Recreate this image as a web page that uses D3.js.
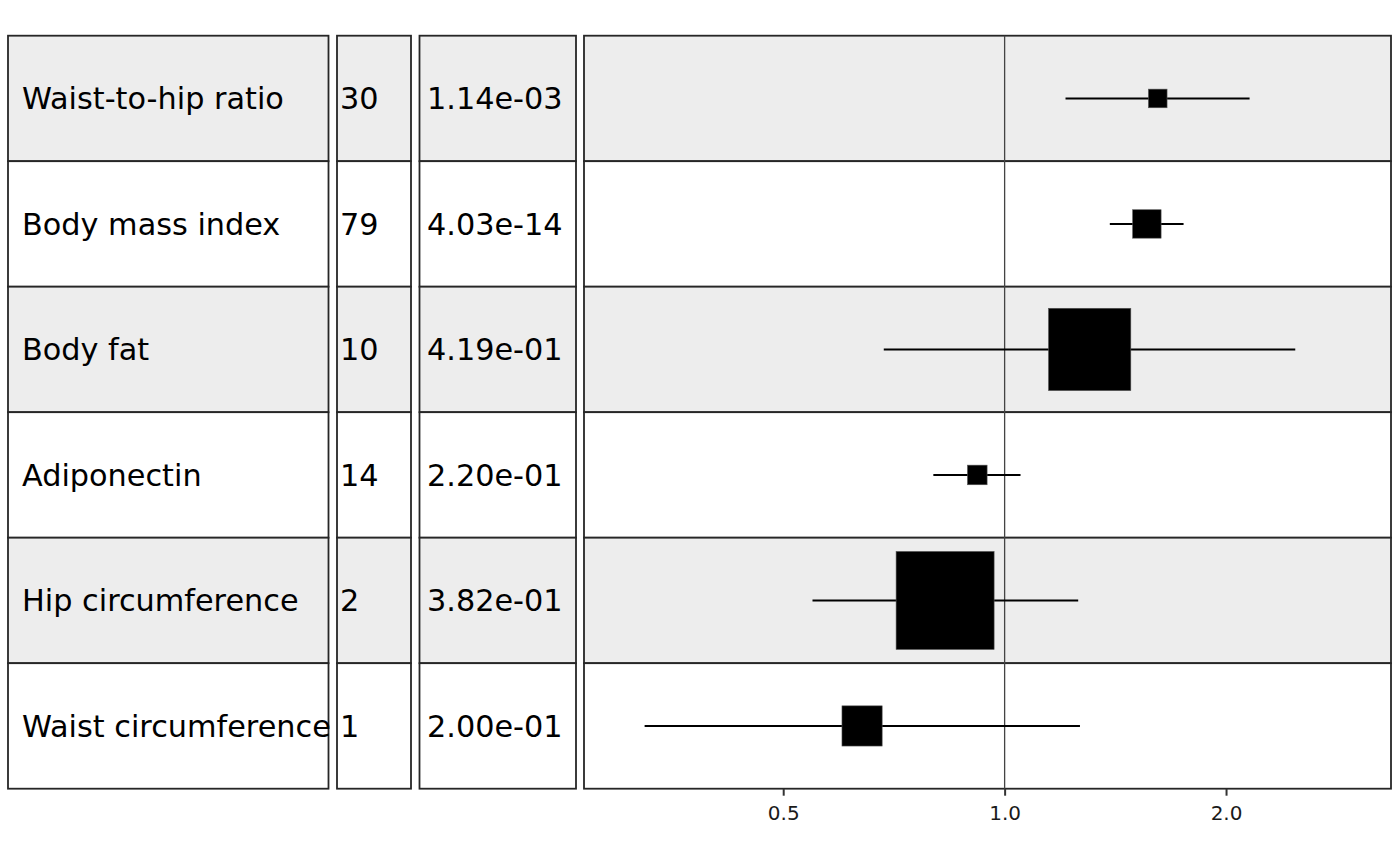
<!DOCTYPE html>
<html>
<head>
<meta charset="utf-8">
<script src="https://cdn.jsdelivr.net/npm/d3@7"></script>
<style>
  body { margin: 0; background: #fff; }
  svg { display: block; font-family: "DejaVu Sans", sans-serif; }
</style>
</head>
<body>
<div id="forest"></div>
<script>
// Data (top to bottom)
const outcomes = ["Waist-to-hip ratio", "Body mass index", "Body fat", "Adiponectin", "Hip circumference", "Waist circumference"];
const nsnp     = [30, 79, 10, 14, 2, 1];
const pvals    = ["1.14e-03", "4.03e-14", "4.19e-01", "2.20e-01", "3.82e-01", "2.00e-01"];
const estimate = [1.615, 1.561, 1.305, 0.918, 0.830, 0.640];
const lower    = [1.210, 1.390, 0.685, 0.800, 0.548, 0.324];
const upper    = [2.153, 1.751, 2.484, 1.051, 1.259, 1.266];
const weight   = [0.19, 0.29, 0.84, 0.20, 1.00, 0.41];
const xTicks   = [0.5, 1.0, 2.0];

const width = 1400, height = 865;

const svg = d3.select("#forest")
              .append("svg")
              .attr("width", width)
              .attr("height", height);

svg.append("rect")
   .attr("width", width)
   .attr("height", height)
   .attr("fill", "#fff");

const rows = outcomes.map((d, i) => ({
    outcome: d, nsnp: nsnp[i], pval: pvals[i],
    est: estimate[i], lo: lower[i], hi: upper[i], w: weight[i], i: i
}));

// one band per outcome, stacked panels
const y = d3.scaleBand()
            .domain(outcomes)
            .range([35.7, 788.7])
            .padding(0);

// table columns + plot panel
const cols = [
    {x0: 8,     x1: 328.5, textX: 22,  key: "outcome"},
    {x0: 337,   x1: 411,   textX: 340, key: "nsnp"},
    {x0: 419.5, x1: 576,   textX: 427, key: "pval"}
];
const panel = {x0: 584, x1: 1391};

const x = d3.scaleLog()
            .domain([0.268, 3.352])
            .range([panel.x0, panel.x1]);

const size = d3.scaleLinear()
               .domain([0, d3.max(weight)])
               .range([0, 98]);

const fill = i => i % 2 === 0 ? "#ededed" : "#ffffff";
const border = "#262626";

// table cells
cols.forEach(c => {
    const g = svg.append("g");
    g.selectAll("rect")
     .data(rows)
     .enter()
     .append("rect")
     .attr("x", c.x0)
     .attr("y", d => y(d.outcome))
     .attr("width", c.x1 - c.x0)
     .attr("height", y.bandwidth())
     .attr("fill", d => fill(d.i))
     .attr("stroke", border)
     .attr("stroke-width", 1.8);

    g.selectAll("text")
     .data(rows)
     .enter()
     .append("text")
     .attr("x", c.textX)
     .attr("y", d => y(d.outcome) + y.bandwidth() / 2)
     .attr("dy", "0.36em")
     .attr("font-size", 30.3)
     .attr("fill", "#000")
     .text(d => d[c.key]);
});

// plot panel rows
const plot = svg.append("g");

plot.selectAll("rect.bg")
    .data(rows)
    .enter()
    .append("rect")
    .attr("class", "bg")
    .attr("x", panel.x0)
    .attr("y", d => y(d.outcome))
    .attr("width", panel.x1 - panel.x0)
    .attr("height", y.bandwidth())
    .attr("fill", d => fill(d.i))
    .attr("stroke", border)
    .attr("stroke-width", 1.8);

// reference line at 1
plot.append("line")
    .attr("x1", x(1))
    .attr("x2", x(1))
    .attr("y1", y.range()[0])
    .attr("y2", y.range()[1])
    .attr("stroke", "#444")
    .attr("stroke-width", 1.3);

// confidence intervals
plot.selectAll("line.ci")
    .data(rows)
    .enter()
    .append("line")
    .attr("class", "ci")
    .attr("x1", d => x(d.lo))
    .attr("x2", d => x(d.hi))
    .attr("y1", d => y(d.outcome) + y.bandwidth() / 2)
    .attr("y2", d => y(d.outcome) + y.bandwidth() / 2)
    .attr("stroke", "#000")
    .attr("stroke-width", 2);

// point estimates, box size by weight
plot.selectAll("rect.pt")
    .data(rows)
    .enter()
    .append("rect")
    .attr("class", "pt")
    .attr("x", d => x(d.est) - size(d.w) / 2)
    .attr("y", d => y(d.outcome) + y.bandwidth() / 2 - size(d.w) / 2)
    .attr("width", d => size(d.w))
    .attr("height", d => size(d.w))
    .attr("fill", "#000")
    .attr("stroke", "#555")
    .attr("stroke-width", 0.6);

// x axis
const axis = svg.append("g")
                .attr("transform", `translate(0, ${y.range()[1]})`)
                .call(d3.axisBottom(x)
                        .tickValues(xTicks)
                        .tickFormat(d3.format(".1f"))
                        .tickSize(7)
                        .tickPadding(10));

axis.select(".domain").remove();
axis.selectAll(".tick line")
    .attr("stroke", "#333")
    .attr("stroke-width", 2);
axis.selectAll(".tick text")
    .attr("font-family", "DejaVu Sans, sans-serif")
    .attr("font-size", 20)
    .attr("fill", "#1a1a1a");
</script>
</body>
</html>
